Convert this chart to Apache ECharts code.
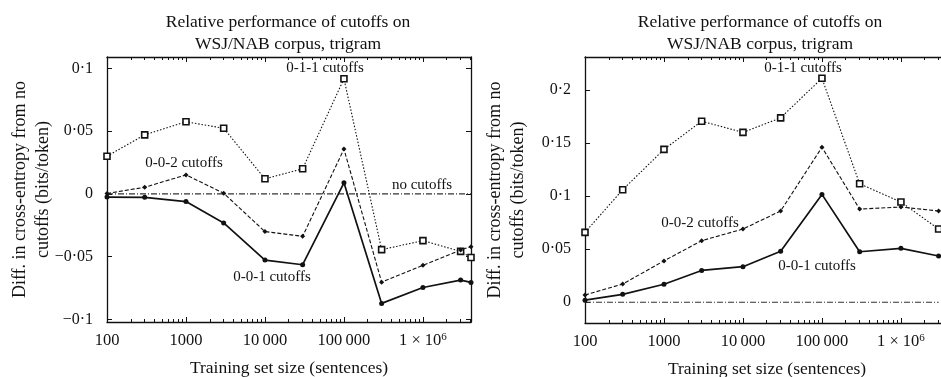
<!DOCTYPE html>
<html><head><meta charset="utf-8">
<script src="https://cdn.jsdelivr.net/npm/echarts@6/dist/echarts.min.js"></script>
<style>html,body{margin:0;padding:0;background:#fff}#c{width:941px;height:377px}</style>
</head><body><div id="c"></div>
<script>
// ---------- data ----------
const xLeft = [100, 300, 1000, 3000, 10000, 30000, 100000, 300000, 1000000, 3000000, 4060000];
const left011 = [0.030, 0.047, 0.0574, 0.0523, 0.012, 0.020, 0.0917, -0.0444, -0.0372, -0.0458, -0.0506];
const left002 = [0.0003, 0.0053, 0.0151, 0.0005, -0.030, -0.0338, 0.0357, -0.0703, -0.0568, -0.0447, -0.042];
const left001 = [-0.0025, -0.0027, -0.0061, -0.0231, -0.0527, -0.0564, 0.0088, -0.0872, -0.0745, -0.0686, -0.0705];
const leftNone = [0, 0, 0, 0, 0, 0, 0, 0, 0, 0, 0];

const xRight = [100, 300, 1000, 3000, 10000, 30000, 100000, 300000, 1000000, 3000000];
const right011 = [0.0658, 0.106, 0.144, 0.1705, 0.160, 0.1737, 0.211, 0.1116, 0.0944, 0.069];
const right002 = [0.0069, 0.0172, 0.039, 0.058, 0.069, 0.086, 0.146, 0.0878, 0.0897, 0.086];
const right001 = [0.002, 0.0075, 0.017, 0.030, 0.0335, 0.048, 0.1016, 0.0476, 0.0508, 0.0436];
const rightNone = [0, 0, 0, 0, 0, 0, 0, 0, 0, 0];

const xTickLabels = {100: '100', 1000: '1000', 10000: '10\u2009000', 100000: '100\u2009000', 1000000: '{a|1 × 10}{s|6}'};
const titleText = 'Relative performance of cutoffs on\nWSJ/NAB corpus, trigram';
const yName = 'Diff. in cross-entropy from no\ncutoffs (bits/token)';
const xName = 'Training set size (sentences)';

// ---------- chart ----------
const FONT = '"Liberation Serif", "DejaVu Serif", serif';
const INK = '#111';
const chart = echarts.init(document.getElementById('c'), null, {renderer: 'canvas'});

function pairs(xs, ys) { return xs.map((x, i) => [x, ys[i]]); }

function yFmt(v) {
  if (Math.abs(v) < 1e-9) return '0';
  let s = Math.abs(v).toFixed(2).replace(/0$/, '').replace('.', '\u00b7');
  return (v < 0 ? '\u2212' : '') + s;
}
function xFmt(v) {
  const k = Math.round(v);
  return xTickLabels[k] !== undefined ? xTickLabels[k] : '';
}

const xMax = xLeft[xLeft.length - 1];

function xAxisMain(gi) {
  return {
    type: 'log', logBase: 10, gridIndex: gi, min: 100, max: xMax, position: 'bottom',
    name: xName, nameLocation: 'middle', nameGap: 36, nameMoveOverlap: false,
    nameTextStyle: {fontFamily: FONT, fontSize: 17.5, color: INK, lineHeight: 20},
    axisLine: {show: true, onZero: false, lineStyle: {color: INK, width: 1.3}},
    axisTick: {show: true, inside: true, length: 5, lineStyle: {color: INK}},
    minorTick: {show: true, splitNumber: 9, length: 3, lineStyle: {color: INK}},
    splitLine: {show: false},
    axisLabel: {
      show: true, margin: 10, fontFamily: FONT, fontSize: 16.5, color: INK,
      showMaxLabel: false, formatter: xFmt,
      rich: {a: {fontFamily: FONT, fontSize: 16.5, color: INK, lineHeight: 18},
             s: {fontFamily: FONT, fontSize: 11, color: INK, verticalAlign: 'top', lineHeight: 12}}
    }
  };
}
function xAxisTop(gi) {
  return {
    type: 'log', logBase: 10, gridIndex: gi, min: 100, max: xMax, position: 'top',
    axisLine: {show: true, onZero: false, lineStyle: {color: INK, width: 1.3}},
    axisTick: {show: true, inside: true, length: 5, lineStyle: {color: INK}},
    minorTick: {show: true, splitNumber: 9, length: 3, lineStyle: {color: INK}},
    splitLine: {show: false}, axisLabel: {show: false}
  };
}
function yAxisMain(gi, mn, mx, gap) {
  return {
    type: 'value', gridIndex: gi, min: mn, max: mx, position: 'left',
    name: yName, nameLocation: 'middle', nameGap: gap, nameRotate: 90, nameMoveOverlap: false,
    nameTextStyle: {fontFamily: FONT, fontSize: 18, color: INK, lineHeight: 23, align: 'center'},
    axisLine: {show: true, onZero: false, lineStyle: {color: INK, width: 1.3}},
    axisTick: {show: true, inside: true, length: 5, lineStyle: {color: INK}},
    splitLine: {show: false},
    axisLabel: {show: true, margin: 14, fontFamily: FONT, fontSize: 16, color: INK,
      showMinLabel: false, showMaxLabel: false, formatter: yFmt}
  };
}
function yAxisRight(gi, mn, mx) {
  return {
    type: 'value', gridIndex: gi, min: mn, max: mx, position: 'right',
    axisLine: {show: true, onZero: false, lineStyle: {color: INK, width: 1.3}},
    axisTick: {show: true, inside: true, length: 5, lineStyle: {color: INK}},
    splitLine: {show: false}, axisLabel: {show: false}
  };
}

function mkSeries(xi, yi, xs, ys, kind) {
  const base = {type: 'line', xAxisIndex: xi, yAxisIndex: yi, data: pairs(xs, ys),
    animation: false, silent: true, z: 3, clip: true};
  if (kind === '011') return Object.assign(base, {
    name: '0-1-1 cutoffs', symbol: 'rect', symbolSize: 6,
    lineStyle: {color: INK, width: 1.1, type: [1.5, 1.8]},
    itemStyle: {color: '#fff', borderColor: INK, borderWidth: 1.6}});
  if (kind === '002') return Object.assign(base, {
    name: '0-0-2 cutoffs', symbol: 'diamond', symbolSize: 5,
    lineStyle: {color: INK, width: 1.1, type: [4, 2]},
    itemStyle: {color: INK}});
  if (kind === '001') return Object.assign(base, {
    name: '0-0-1 cutoffs', symbol: 'circle', symbolSize: 5,
    lineStyle: {color: INK, width: 1.7, type: 'solid'},
    itemStyle: {color: INK}});
  return Object.assign(base, {
    name: 'no cutoffs', symbol: 'none', z: 2,
    lineStyle: {color: '#333', width: 1.1, type: [6, 2, 1, 2]}});
}

function label(text, x, y) {
  return {type: 'text', x: x, y: y, silent: true, z: 10,
    style: {text: text, fill: INK, font: '15px ' + FONT, textAlign: 'center', textVerticalAlign: 'middle'}};
}

const titleStyle = {fontFamily: FONT, fontSize: 17.5, fontWeight: 'normal', color: INK, lineHeight: 22};
const option = {
  backgroundColor: '#fff',
  animation: false,
  title: [
    {text: titleText, left: 288, top: 11, padding: 0, textAlign: 'center', textStyle: titleStyle},
    {text: titleText, left: 760, top: 11, padding: 0, textAlign: 'center', textStyle: titleStyle}
  ],
  grid: [
    {left: 107, top: 57, width: 364, height: 265, containLabel: false, outerBoundsMode: 'none'},
    {left: 585, top: 57, width: 364, height: 266, containLabel: false, outerBoundsMode: 'none'}
  ],
  xAxis: [xAxisMain(0), xAxisTop(0), xAxisMain(1), xAxisTop(1)],
  yAxis: [yAxisMain(0, -0.102, 0.109, 52), yAxisRight(0, -0.102, 0.109),
          yAxisMain(1, -0.0195, 0.231, 55), yAxisRight(1, -0.0195, 0.231)],
  series: [
    mkSeries(0, 0, xLeft, leftNone, 'none'),
    mkSeries(0, 0, xLeft, left011, '011'),
    mkSeries(0, 0, xLeft, left002, '002'),
    mkSeries(0, 0, xLeft, left001, '001'),
    mkSeries(2, 2, xRight, rightNone, 'none'),
    mkSeries(2, 2, xRight, right011, '011'),
    mkSeries(2, 2, xRight, right002, '002'),
    mkSeries(2, 2, xRight, right001, '001')
  ],
  graphic: [
    label('0-1-1 cutoffs', 325, 68),
    label('0-0-2 cutoffs', 184, 163),
    label('no cutoffs', 422, 185),
    label('0-0-1 cutoffs', 272, 277),
    label('0-1-1 cutoffs', 803, 68),
    label('0-0-2 cutoffs', 700, 223),
    label('0-0-1 cutoffs', 817, 266)
  ]
};
chart.setOption(option);
</script></body></html>
